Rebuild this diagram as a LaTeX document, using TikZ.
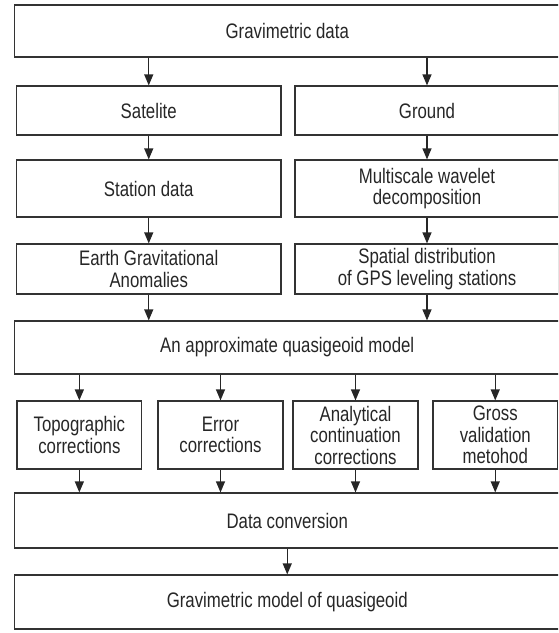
\documentclass[tikz,border=0pt]{standalone}
\usepackage{fontspec}
\setmainfont{Liberation Sans}[FakeStretch=0.8]
\usetikzlibrary{arrows.meta}

\begin{document}
\begin{tikzpicture}[x=1pt,y=-1pt,
    box/.style={draw=black!80,line width=1.2pt,rectangle,inner sep=0pt,align=center,text=black!85,font=\fontsize{21}{21.5}\selectfont},
    flow/.style={-{Triangle[length=11pt,width=9pt]},line width=1.2pt,draw=black!85}]
  \useasboundingbox (0,0) rectangle (558,633);
  \clip (0,0) rectangle (558,633);

  \node[box,minimum width=545.5pt,minimum height=52pt] (grav) at (287.25,31) {Gravimetric data};

  \node[box,minimum width=264.5pt,minimum height=49pt] (sat) at (148.75,110.5) {Satelite};
  \node[box,minimum width=264pt,minimum height=49pt] (ground) at (427,110.5) {Ground};

  \node[box,minimum width=264.5pt,minimum height=57pt] (station) at (148.75,188.5) {Station data};
  \node[box,minimum width=264pt,minimum height=57pt] (wavelet) at (427,188.5) {Multiscale wavelet\\decomposition};

  \node[box,minimum width=264.5pt,minimum height=50pt] (earth) at (148.75,269) {Earth Gravitational\\Anomalies};
  \node[box,minimum width=264pt,minimum height=50pt] (spatial) at (427,269) {Spatial distribution\\of GPS leveling stations};

  \node[box,minimum width=545.5pt,minimum height=53pt] (quasi) at (287.25,347.5) {An approximate quasigeoid model};

  \node[box,minimum width=124.7pt,minimum height=68pt] (topo) at (79.35,435) {Topographic\\corrections};
  \node[box,minimum width=125pt,minimum height=68pt] (error) at (220.5,435) {Error\\corrections};
  \node[box,minimum width=125pt,minimum height=68pt] (analyt) at (355.5,435) {Analytical\\continuation\\corrections};
  \node[box,minimum width=124.5pt,minimum height=68pt] (gross) at (495.25,435) {Gross\\validation\\metohod};

  \node[box,minimum width=545.5pt,minimum height=55pt] (conv) at (287.25,520.5) {Data conversion};
  \node[box,minimum width=545.5pt,minimum height=54pt] (final) at (287.25,602) {Gravimetric model of quasigeoid};

  \draw[flow] (grav.south -| sat) -- (sat.north);
  \draw[flow] (grav.south -| ground) -- (ground.north);
  \draw[flow] (sat) -- (station);
  \draw[flow] (ground) -- (wavelet);
  \draw[flow] (station) -- (earth);
  \draw[flow] (wavelet) -- (spatial);
  \draw[flow] (earth.south) -- (earth.south |- quasi.north);
  \draw[flow] (spatial.south) -- (spatial.south |- quasi.north);

  \draw[flow] (quasi.south -| topo) -- (topo.north);
  \draw[flow] (quasi.south -| error) -- (error.north);
  \draw[flow] (quasi.south -| analyt) -- (analyt.north);
  \draw[flow] (quasi.south -| gross) -- (gross.north);

  \draw[flow] (topo.south) -- (topo.south |- conv.north);
  \draw[flow] (error.south) -- (error.south |- conv.north);
  \draw[flow] (analyt.south) -- (analyt.south |- conv.north);
  \draw[flow] (gross.south) -- (gross.south |- conv.north);

  \draw[flow] (conv) -- (final);
\end{tikzpicture}
\end{document}
